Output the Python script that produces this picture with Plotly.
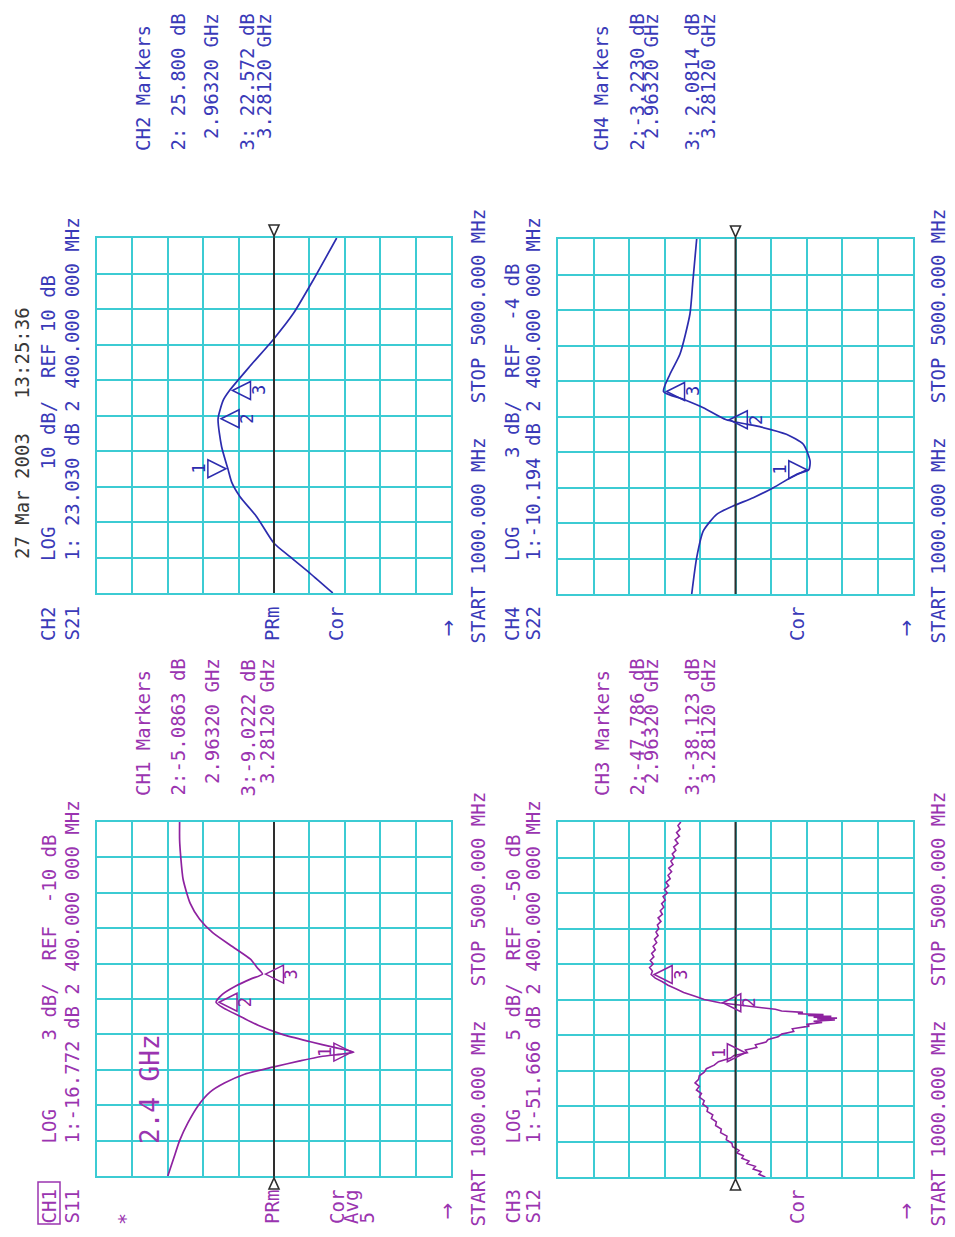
import plotly.graph_objects as go

W, H = 955, 1237

# ---- measured traces: frequency (MHz) / level (dB) ----
ch1_freq = [1000, 1200, 1400, 1600, 1800, 1950, 2050, 2150, 2230, 2300, 2350, 2400, 2450, 2520,
            2600, 2700, 2800, 2900, 2963.2, 3050, 3150, 3230, 3281.2, 3350, 3450, 3590, 3750,
            3900, 4080, 4350, 4600, 4800, 5000]
ch1_db = [-1.0, -1.5, -2.0, -2.7, -3.6, -4.6, -5.8, -7.5, -9.9, -12.2, -14.0, -16.772, -15.2, -13.0,
          -10.7, -8.7, -7.2, -5.7, -5.0863, -5.6, -6.8, -8.1, -9.0222, -8.6, -8.0, -6.5, -4.8,
          -3.7, -2.9, -2.3, -2.1, -2.0, -2.0]

ch2_freq = [1000, 1222, 1409, 1560, 1860, 2085, 2243, 2400, 2648, 2963.2, 3175, 3281.2, 3546,
            3851, 4151, 4527, 5000]
ch2_db = [-6.6, -0.2, 5.5, 10.0, 14.9, 19.6, 21.9, 23.030, 24.8, 25.800, 24.3, 22.572, 17.0,
          10.3, 4.5, -1.1, -7.7]

ch3_freq = [1000, 1030, 1060, 1090, 1120, 1150, 1180, 1210, 1240, 1270, 1300, 1340, 1380, 1420,
            1460, 1500, 1540, 1580, 1620, 1660, 1700, 1740, 1780, 1820, 1860, 1900, 1940, 1980,
            2020, 2060, 2100, 2140, 2180, 2220, 2260, 2300, 2340, 2370, 2400, 2430, 2460, 2490,
            2520, 2550, 2580, 2610, 2640, 2670, 2700, 2720, 2740, 2755, 2770, 2780, 2790, 2800,
            2810, 2820, 2830, 2840, 2855, 2870, 2890, 2910, 2935, 2963.2, 3000, 3040, 3080, 3120,
            3160, 3200, 3240, 3281.2, 3320, 3360, 3400, 3440, 3480, 3520, 3560, 3600, 3640, 3680,
            3720, 3760, 3800, 3840, 3880, 3920, 3960, 4000, 4040, 4080, 4120, 4160, 4200, 4240,
            4280, 4320, 4360, 4400, 4440, 4480, 4520, 4560, 4600, 4640, 4680, 4720, 4760, 4800,
            4840, 4880, 4920, 4960, 5000]
ch3_db = [-54.2, -53.3, -53.6, -52.5, -52.8, -51.6, -51.9, -50.9, -51.1, -50.2, -50.5, -49.6,
          -49.5, -48.7, -48.8, -47.9, -48.0, -47.2, -47.3, -46.6, -46.8, -46.0, -46.1, -45.4,
          -45.6, -44.9, -45.2, -44.5, -44.9, -44.3, -44.8, -44.9, -45.6, -45.9, -47.0, -47.6,
          -49.3, -49.8, -51.666, -51.4, -53.0, -52.8, -54.3, -54.6, -56.0, -56.5, -58.2, -58.0,
          -60.4, -60.0, -62.2, -61.0, -64.0, -61.5, -64.3, -61.0, -63.5, -60.2, -62.4, -58.8,
          -59.5, -56.5, -55.6, -53.0, -50.8, -47.786, -45.6, -44.2, -42.7, -41.6, -40.5, -39.7,
          -38.7, -38.123, -38.3, -37.9, -38.4, -38.0, -38.5, -38.2, -38.7, -38.4, -38.9, -38.6,
          -39.1, -38.8, -39.2, -39.0, -39.5, -39.1, -39.7, -39.4, -39.9, -39.6, -40.1, -39.8,
          -40.4, -40.0, -40.6, -40.2, -40.8, -40.5, -41.0, -40.6, -41.2, -40.9, -41.4, -41.1,
          -41.6, -41.3, -41.9, -41.5, -42.1, -41.7, -42.2, -41.9, -42.3]

ch4_freq = [1000, 1409, 1710, 1898, 1992, 2085, 2198, 2349, 2400, 2499, 2687, 2800, 2880,
            2963.2, 3099, 3194, 3281.2, 3476, 3704, 4155, 4527, 5000]
ch4_db = [-0.30, -0.72, -1.28, -2.41, -3.8, -5.5, -7.2, -9.17, -10.194, -10.3, -9.73, -8.3,
          -6.2, -3.2230, -1.28, 0.41, 2.0814, 1.54, 0.69, -0.15, -0.4, -0.72]

# ---- markers ----
marker_freq = [2400.0, 2963.2, 3281.2]
ch1_mk_db = [-16.772, -5.0863, -9.0222]
ch2_mk_db = [23.030, 25.800, 22.572]
ch3_mk_db = [-51.666, -47.786, -38.123]
ch4_mk_db = [-10.194, -3.2230, 2.0814]

# ---- display settings: dB per division / reference level ----
scale_per_div = [3, 10, 5, 3]
ref_level = [-10, 10, -50, -4]
start_mhz, stop_mhz = 1000, 5000

PURPLE = "#8e22a0"
PURPLE_TXT = "#9a34b0"
BLUE = "#2c2cae"
BLUE_TXT = "#3a3ab8"
GRID = "#3ccbd3"
REFC = "#2e2e2e"
MONO = "DejaVu Sans Mono"

# graticule boxes in page pixels: left, top, right, bottom
boxes = [(97, 822, 451, 1176), (97, 238, 451, 593), (558, 822, 913, 1177), (558, 239, 913, 594)]
channels = [
    (ch1_freq, ch1_db, ch1_mk_db, PURPLE, "bottom"),
    (ch2_freq, ch2_db, ch2_mk_db, BLUE, "top"),
    (ch3_freq, ch3_db, ch3_mk_db, PURPLE, "bottom"),
    (ch4_freq, ch4_db, ch4_mk_db, BLUE, "top"),
]

fig = go.Figure()
shapes = []
annotations = []


def vtext(txt, x_px, y_px, color, size=19, family=MONO):
    annotations.append(dict(
        text=txt.replace(" ", "\u00a0"), x=x_px / W, y=1 - y_px / H, xref="paper", yref="paper",
        xanchor="center", yanchor="bottom", textangle=-90, showarrow=False,
        font=dict(family=family, size=size, color=color), borderpad=0))


for i, (freq, db, mk_db, color, ref_side) in enumerate(channels):
    n = "" if i == 0 else str(i + 1)
    xa, ya = "x" + n, "y" + n
    l, t, r, b = boxes[i]
    s, ref = scale_per_div[i], ref_level[i]
    axis_common = dict(showgrid=True, gridcolor=GRID, gridwidth=2, zeroline=False,
                       showline=True, linecolor=GRID, linewidth=2, mirror=True,
                       showticklabels=False, ticks="", fixedrange=True)
    fig.update_layout(**{
        "xaxis" + n: dict(domain=[l / W, r / W], range=[ref + 5 * s, ref - 5 * s],
                          tick0=ref, dtick=s, anchor=ya, **axis_common),
        "yaxis" + n: dict(domain=[1 - b / H, 1 - t / H], range=[start_mhz, stop_mhz],
                          tick0=start_mhz, dtick=(stop_mhz - start_mhz) / 10, anchor=xa,
                          **axis_common),
    })
    # reference position line and its indicator just outside the graticule
    shapes.append(dict(type="line", xref=xa, yref=ya, x0=ref, x1=ref, y0=start_mhz, y1=stop_mhz,
                       line=dict(color=REFC, width=2), layer="above"))
    if ref_side == "bottom":
        path, anchor_d = "M0,0 L0,-2 M0,-2 L-5,-13 L5,-13 Z", 0
    else:
        path, anchor_d = "M0,0 L0,2 M0,2 L-5,13 L5,13 Z", 1
    shapes.append(dict(type="path", xref=xa, yref=ya + " domain", xsizemode="pixel",
                       ysizemode="pixel", xanchor=ref, yanchor=anchor_d, path=path,
                       line=dict(color=REFC, width=1.6), layer="above"))
    # trace
    fig.add_trace(go.Scatter(x=db, y=freq, xaxis=xa, yaxis=ya, mode="lines",
                             line=dict(color=color, width=1.7 if i != 2 else 1.6,
                                       shape="spline" if i != 2 else "linear", smoothing=0.6),
                             hoverinfo="skip", showlegend=False))
    # markers: 1 (active) sits on the high side, 2 and 3 on the low side
    for k, (mf, md) in enumerate(zip(marker_freq, mk_db)):
        if k == 0:
            mpath, shift = "M-2,0 L-20,9 L-20,-9 Z", -29
        else:
            mpath, shift = "M3,0 L21,9 L21,-9 Z", 29
        shapes.append(dict(type="path", xref=xa, yref=ya, xsizemode="pixel", ysizemode="pixel",
                           xanchor=md, yanchor=mf, path=mpath,
                           line=dict(color=color, width=1.5), layer="above"))
        annotations.append(dict(text=str(k + 1), x=md, y=mf, xref=xa, yref=ya, xshift=shift,
                                showarrow=False, textangle=-90,
                                font=dict(family=MONO, size=17, color=color)))

# ---- header / status texts ----
vtext("27 Mar 2003   13:25:36", 22, 560, "#383838")

ARROW_FONT = "DejaVu Sans"

# CH1 (S11)
vtext("CH1    LOG      3 dB/  REF  -10 dB", 48, 1225, PURPLE_TXT)
vtext("S11    1:-16.772 dB 2 400.000 000 MHz", 71, 1225, PURPLE_TXT)
shapes.append(dict(type="rect", xref="paper", yref="paper", x0=38 / W, x1=60 / W,
                   y0=1 - 1224 / H, y1=1 - 1182 / H, line=dict(color=PURPLE_TXT, width=1.5)))
vtext("*", 125, 1226, PURPLE_TXT, size=20)
vtext("PRm", 272, 1225, PURPLE_TXT)
vtext("Cor", 337, 1225, PURPLE_TXT)
vtext("Avg", 351, 1225, PURPLE_TXT)
vtext("5", 366, 1225, PURPLE_TXT)
vtext("→", 446, 1221, PURPLE_TXT, size=20, family=ARROW_FONT)
vtext("START 1000.000 MHz   STOP 5000.000 MHz", 477, 1228, PURPLE_TXT)
vtext("2.4 GHz", 150, 1145, PURPLE_TXT, size=26)
vtext("CH1 Markers", 143, 797, PURPLE_TXT)
vtext("2:-5.0863 dB", 177, 797, PURPLE_TXT)
vtext(" 2.96320 GHz", 211, 797, PURPLE_TXT)
vtext("3:-9.0222 dB", 247, 797, PURPLE_TXT)
vtext(" 3.28120 GHz", 266, 797, PURPLE_TXT)

# CH2 (S21)
vtext("CH2    LOG     10 dB/  REF 10 dB", 48, 642, BLUE_TXT)
vtext("S21    1: 23.030 dB 2 400.000 000 MHz", 71, 642, BLUE_TXT)
vtext("PRm", 272, 642, BLUE_TXT)
vtext("Cor", 336, 642, BLUE_TXT)
vtext("→", 447, 638, BLUE_TXT, size=20, family=ARROW_FONT)
vtext("START 1000.000 MHz   STOP 5000.000 MHz", 477, 645, BLUE_TXT)
vtext("CH2 Markers", 143, 152, BLUE_TXT)
vtext("2: 25.800 dB", 177, 152, BLUE_TXT)
vtext(" 2.96320 GHz", 210, 152, BLUE_TXT)
vtext("3: 22.572 dB", 246, 152, BLUE_TXT)
vtext(" 3.28120 GHz", 263, 152, BLUE_TXT)

# CH3 (S12)
vtext("CH3    LOG      5 dB/  REF  -50 dB", 512, 1225, PURPLE_TXT)
vtext("S12    1:-51.666 dB 2 400.000 000 MHz", 532, 1225, PURPLE_TXT)
vtext("Cor", 797, 1225, PURPLE_TXT)
vtext("→", 905, 1221, PURPLE_TXT, size=20, family=ARROW_FONT)
vtext("START 1000.000 MHz   STOP 5000.000 MHz", 937, 1228, PURPLE_TXT)
vtext("CH3 Markers", 602, 797, PURPLE_TXT)
vtext("2:-47.786 dB", 636, 797, PURPLE_TXT)
vtext(" 2.96320 GHz", 650, 797, PURPLE_TXT)
vtext("3:-38.123 dB", 691, 797, PURPLE_TXT)
vtext(" 3.28120 GHz", 707, 797, PURPLE_TXT)

# CH4 (S22)
vtext("CH4    LOG      3 dB/  REF  -4 dB", 512, 642, BLUE_TXT)
vtext("S22    1:-10.194 dB 2 400.000 000 MHz", 532, 642, BLUE_TXT)
vtext("Cor", 797, 642, BLUE_TXT)
vtext("→", 905, 638, BLUE_TXT, size=20, family=ARROW_FONT)
vtext("START 1000.000 MHz   STOP 5000.000 MHz", 937, 645, BLUE_TXT)
vtext("CH4 Markers", 601, 152, BLUE_TXT)
vtext("2:-3.2230 dB", 636, 152, BLUE_TXT)
vtext(" 2.96320 GHz", 650, 152, BLUE_TXT)
vtext("3: 2.0814 dB", 691, 152, BLUE_TXT)
vtext(" 3.28120 GHz", 707, 152, BLUE_TXT)

fig.update_layout(width=W, height=H, margin=dict(l=0, r=0, t=0, b=0),
                  paper_bgcolor="white", plot_bgcolor="white",
                  shapes=shapes, annotations=annotations, showlegend=False)

fig.write_html("out.html")
